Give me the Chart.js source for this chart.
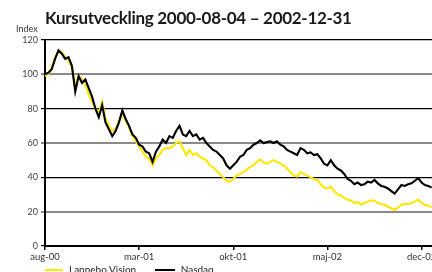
<!DOCTYPE html>
<html>
<head>
<meta charset="utf-8">
<script src="https://cdn.jsdelivr.net/npm/chart.js@4"></script>
<style>
  html, body { margin: 0; padding: 0; background: #fff; overflow: hidden; width: 432px; height: 272px; }
  #wrap { position: relative; width: 432px; height: 272px; overflow: hidden; }
  #chart { position: absolute; left: 0; top: 0; }
  .title { position: absolute; left: 45px; top: 7px; font: 700 17px Lato, sans-serif; color: #1a1a1a; white-space: nowrap; letter-spacing: -0.3px; }
  .ylab { position: absolute; left: 16px; top: 23px; font: 9px Lato, sans-serif; color: #333; }
  .legend { position: absolute; left: 45px; top: 263px; font: 10px Lato, sans-serif; color: #222; white-space: nowrap; }
  .legend span.sw { display: inline-block; width: 18px; height: 2px; vertical-align: middle; margin-right: 6px; }
</style>
</head>
<body>
<div id="wrap">
  <canvas id="chart" width="445" height="272"></canvas>
  <div class="title">Kursutveckling 2000-08-04 – 2002-12-31</div>
  <div class="ylab">Index</div>
  <div class="legend">
    <span class="sw" style="background:#ffe800"></span>Lannebo Vision
    <span class="sw" style="background:#000;margin-left:16px;width:20px"></span>Nasdaq
  </div>
</div>
<script>
// ----------- Data (months since 2000-08-04, weekly-ish steps) ------------
const monthPos = Array.from({ length: 116 }, (_, i) => i * 0.25);

const nasdaq = [
  100, 101, 103, 109, 114, 112, 109, 110, 105, 90, 99, 95, 97, 92, 87, 80,
  75, 82, 72, 68, 64, 67, 72, 79, 74, 70, 65, 63, 59, 58, 55, 54,
  49, 55, 58, 62, 60, 64, 63, 67, 70, 65, 64, 67, 64, 65, 62, 63,
  60, 58, 56, 55, 53, 51, 47, 45, 47, 49, 52, 53, 56, 57, 59, 60,
  61.5, 60, 60.5, 61, 60, 61, 59, 58, 56, 55, 54, 53, 57, 56, 54, 54.5,
  53, 53.5, 51, 48, 47, 50, 47, 45, 44, 42, 39, 38, 36, 37, 35.5, 36,
  37.5, 37, 38.5, 36.5, 35, 34.5, 33.5, 32, 30.5, 33, 35.5, 35, 36, 36.5, 38, 39.5,
  37, 35.5, 35, 34
];

const lannebo = [
  99, 100, 104, 110, 113, 113, 110, 108, 104, 94, 99, 97, 94, 88, 84, 80,
  78, 84, 74, 70, 67, 68, 73, 77, 73, 69, 64, 61, 58, 55, 52, 51,
  47, 51, 53, 56, 57, 57, 58, 60, 61, 57, 53, 56, 53, 54, 52, 51,
  50, 47, 46, 44, 42, 40, 38, 37.5, 39, 41, 42, 43, 44.5, 46, 47, 49,
  50.5, 48.5, 48, 49, 50, 49, 48, 47, 45, 43, 41, 40.5, 43, 42, 41, 40,
  39, 38.5, 36, 34, 33.5, 34.5, 32, 30, 29.5, 28, 27, 26.5, 25, 25.5, 24, 25,
  26, 26.5, 26.5, 25, 24.5, 24, 23, 22, 21, 22.5, 24, 24.5, 24.5, 25, 26, 27,
  25, 24, 23.5, 22.5
];

const xTickPos = [0, 7, 14, 21, 28];
const xTickLabels = ["aug-00", "mar-01", "okt-01", "maj-02", "dec-02"];

const toPoints = (vals) => vals.map((v, i) => ({ x: monthPos[i], y: v }));

// ----------- Chart ------------
new Chart(document.getElementById("chart"), {
  type: "line",
  data: {
    datasets: [
      {
        label: "Nasdaq",
        data: toPoints(nasdaq),
        borderColor: "#000",
        borderWidth: 2.1,
        pointRadius: 0,
        tension: 0,
      },
      {
        label: "Lannebo Vision",
        data: toPoints(lannebo),
        borderColor: "#ffe800",
        borderWidth: 2.1,
        pointRadius: 0,
        tension: 0,
      },
    ],
  },
  options: {
    responsive: false,
    animation: false,
    layout: { padding: { top: 40, right: 10, left: 0, bottom: 0 } },
    plugins: { legend: { display: false }, tooltip: { enabled: false } },
    scales: {
      x: {
        type: "linear",
        min: 0,
        max: 29,
        afterBuildTicks: (s) => { s.ticks = xTickPos.map((v) => ({ value: v })); },
        afterFit: (s) => { s.height = 26; },
        ticks: {
          autoSkip: false,
          maxRotation: 0,
          padding: 1,
          color: "#333",
          font: { family: "Lato", size: 9.5 },
          callback: (v) => xTickLabels[xTickPos.indexOf(v)],
        },
        grid: { drawOnChartArea: false, drawTicks: true, tickLength: 4, color: "#000", lineWidth: 1.5 },
        border: { color: "#000", width: 2 },
      },
      y: {
        min: 0,
        max: 120,
        afterFit: (s) => { s.width = 45; },
        ticks: {
          stepSize: 20,
          padding: 3,
          color: "#444",
          font: { family: "Lato", size: 9 },
        },
        grid: {
          tickLength: 4,
          color: (c) => (c.tick && c.tick.value % 40 === 20 ? "#8a8a8a" : "#000"),
          lineWidth: (c) => (c.tick && c.tick.value % 40 === 20 ? 2 : 1.2),
        },
        border: { color: "#000", width: 2 },
      },
    },
  },
});
</script>
</body>
</html>
